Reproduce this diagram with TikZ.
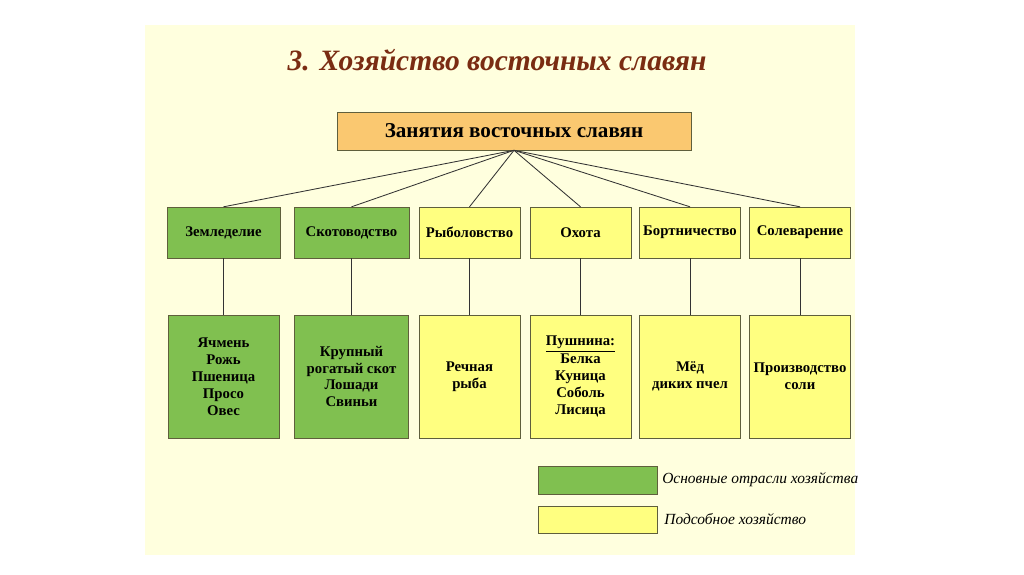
\documentclass[tikz,border=0pt]{standalone}
\usepackage{fontspec}
\setmainfont{Liberation Serif}
\usetikzlibrary{positioning}

\definecolor{slidebg}{RGB}{255,255,222}
\definecolor{headfill}{RGB}{250,200,112}
\definecolor{mainfill}{RGB}{128,192,80}
\definecolor{sidefill}{RGB}{255,255,128}
\definecolor{boxline}{RGB}{95,95,60}
\definecolor{titlebrown}{RGB}{122,44,18}

\begin{document}
\begin{tikzpicture}[x=0.025cm, y=-0.025cm, node distance=3.6cm,
    head/.style={rectangle, draw=boxline, fill=headfill, minimum width=8.85cm, minimum height=0.95cm, text centered, font=\fontsize{15}{18}\selectfont\bfseries},
    mainocc/.style={rectangle, draw=boxline, fill=mainfill, minimum width=2.53cm, minimum height=1.27cm, inner sep=1pt, text centered, font=\fontsize{10.5}{12}\selectfont\bfseries},
    sideocc/.style={mainocc, fill=sidefill},
    mainlist/.style={mainocc, minimum height=3.07cm, align=center},
    sidelist/.style={mainlist, fill=sidefill},
    keytext/.style={font=\fontsize{11}{13}\selectfont\itshape},
    link/.style={draw=black!80, line width=0.6pt}]

% Slide
\useasboundingbox (0,0) rectangle (1024,574);
\fill[white] (0,0) rectangle (1024,574);
\fill[slidebg] (145,25) rectangle (855,555);

% Title and top box
\node[text=titlebrown, font=\fontsize{21}{25}\selectfont\bfseries\itshape] (title) at (497,60) {3. Хозяйство восточных славян};
\node[head] (occup) at (514,131) {Занятия восточных славян};

% Occupations
\node[mainocc, minimum width=2.83cm] (farm) at (223.5,232.5) {Земледелие};
\node[mainocc, minimum width=2.88cm] (cattle) at (351.5,232.5) {Скотоводство};
\node[sideocc] (fish) at (469.5,232.5) {Рыболовство};
\node[sideocc] (hunt) at (580.5,232.5) {Охота};
\node[sideocc] (bees) at (690,232.5) {Бортничество};
\node[sideocc] (salt) at (800,232.5) {Солеварение};

% Details
\node[mainlist, minimum width=2.78cm, below of=farm] (crops) {Ячмень\\Рожь\\Пшеница\\Просо\\Овес};
\node[mainlist, minimum width=2.85cm, below of=cattle] (herd) {Крупный\\рогатый скот\\Лошади\\Свиньи};
\node[sidelist, below of=fish] (catch) {Речная\\рыба};
\node[sidelist, below of=hunt] (furs) {\underline{Пушнина:}\\[1pt]Белка\\Куница\\Соболь\\Лисица};
\node[sidelist, below of=bees] (honey) {Мёд\\диких пчел};
\node[sidelist, below of=salt] (brine) {Производство\\соли};

% Legend
\node[mainocc, minimum width=2.975cm, minimum height=0.7cm] (keymain) at (597.5,480) {};
\node[sideocc, minimum width=2.975cm, minimum height=0.68cm] (keyside) at (597.5,519.5) {};
\node[keytext, right=0pt of keymain] (keymaintxt) {Основные отрасли хозяйства};
\node[keytext, right=1.5pt of keyside] (keysidetxt) {Подсобное хозяйство};

% Lines
\draw[link] (occup.south) -- (farm.north);
\draw[link] (occup.south) -- (cattle.north);
\draw[link] (occup.south) -- (fish.north);
\draw[link] (occup.south) -- (hunt.north);
\draw[link] (occup.south) -- (bees.north);
\draw[link] (occup.south) -- (salt.north);
\draw[link] (farm) -- (crops);
\draw[link] (cattle) -- (herd);
\draw[link] (fish) -- (catch);
\draw[link] (hunt) -- (furs);
\draw[link] (bees) -- (honey);
\draw[link] (salt) -- (brine);

\end{tikzpicture}
\end{document}
